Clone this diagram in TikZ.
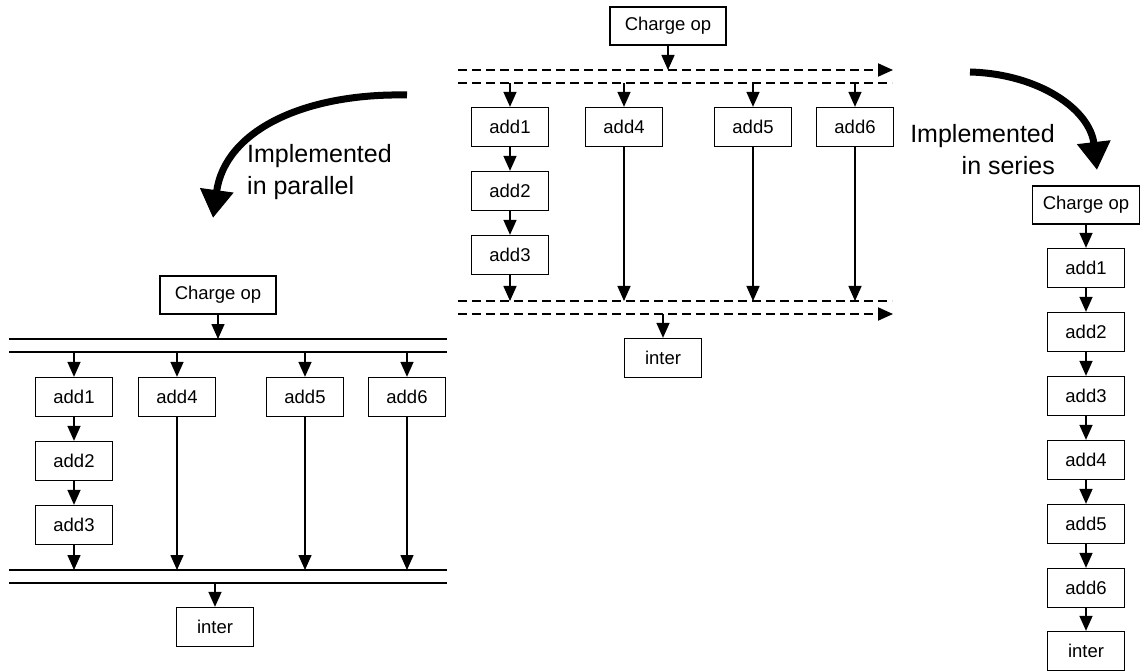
\documentclass[tikz,border=0pt]{standalone}
\usepackage{fontspec}
\setmainfont{Liberation Sans}
\usetikzlibrary{arrows.meta}

\tikzset{
	box/.style={draw, line width=1.3pt, minimum width=77pt, minimum height=39pt, inner sep=0pt, font=\fontsize{18.5}{22}\selectfont},
	chargebox/.style={box, minimum width=116pt, minimum height=38pt},
	flow/.style={line width=1.5pt, -{Triangle[width=13pt,length=15pt]}},
	bus/.style={line width=2pt},
	dbus/.style={line width=2pt, dash pattern=on 9pt off 5pt},
	curvearrow/.style={line width=7pt, -{Triangle[width=32pt,length=28pt]}},
	note/.style={font=\fontsize{25}{32}\selectfont, inner sep=0pt}
}

\begin{document}
\begin{tikzpicture}[x=1pt, y=-1pt]
	\useasboundingbox (0,0) rectangle (1144,671);

	% middle: the original graph
	\node[chargebox] (mcharge) at (668,26) {Charge op};
	\coordinate (mbusa) at (458,70);  \coordinate (mbusaend) at (893,70);
	\coordinate (mbusb) at (458,83);  \coordinate (mbusbend) at (892,83);
	\draw[dbus, -{Triangle[width=13pt,length=15pt]}] (mbusa) -- (mbusaend);
	\draw[dbus] (mbusb) -- (mbusbend);
	\node[box] (madda) at (510,127) {add1};
	\node[box] (maddb) at (510,191) {add2};
	\node[box] (maddc) at (510,255) {add3};
	\node[box] (maddd) at (624,127) {add4};
	\node[box] (madde) at (753,127) {add5};
	\node[box] (maddf) at (855,127) {add6};
	\coordinate (mbusc) at (458,301); \coordinate (mbuscend) at (892,301);
	\coordinate (mbusd) at (458,314); \coordinate (mbusdend) at (893,314);
	\draw[dbus] (mbusc) -- (mbuscend);
	\draw[dbus, -{Triangle[width=13pt,length=15pt]}] (mbusd) -- (mbusdend);
	\node[box] (minter) at (663,358) {inter};

	\draw[flow] (mcharge) -- (mcharge.south |- mbusa);
	\foreach \n in {madda,maddd,madde,maddf}
		\draw[flow] (\n.north |- mbusb) -- (\n);
	\draw[flow] (madda) -- (maddb);
	\draw[flow] (maddb) -- (maddc);
	\foreach \n in {maddc,maddd,madde,maddf}
		\draw[flow] (\n) -- (\n.south |- mbusc);
	\draw[flow] (minter.north |- mbusd) -- (minter);

	% left: implemented in parallel
	\node[chargebox] (lcharge) at (218,295) {Charge op};
	\coordinate (lbusa) at (9,339);   \coordinate (lbusaend) at (447,339);
	\coordinate (lbusb) at (9,352);   \coordinate (lbusbend) at (447,352);
	\draw[bus] (lbusa) -- (lbusaend);
	\draw[bus] (lbusb) -- (lbusbend);
	\node[box] (ladda) at (74,397) {add1};
	\node[box] (laddb) at (74,461) {add2};
	\node[box] (laddc) at (74,525) {add3};
	\node[box] (laddd) at (177,397) {add4};
	\node[box] (ladde) at (305,397) {add5};
	\node[box] (laddf) at (407,397) {add6};
	\coordinate (lbusc) at (9,570);   \coordinate (lbuscend) at (447,570);
	\coordinate (lbusd) at (9,583);   \coordinate (lbusdend) at (447,583);
	\draw[bus] (lbusc) -- (lbuscend);
	\draw[bus] (lbusd) -- (lbusdend);
	\node[box] (linter) at (215,627) {inter};

	\draw[flow] (lcharge) -- (lcharge.south |- lbusa);
	\foreach \n in {ladda,laddd,ladde,laddf}
		\draw[flow] (\n.north |- lbusb) -- (\n);
	\draw[flow] (ladda) -- (laddb);
	\draw[flow] (laddb) -- (laddc);
	\foreach \n in {laddc,laddd,ladde,laddf}
		\draw[flow] (\n) -- (\n.south |- lbusc);
	\draw[flow] (linter.north |- lbusd) -- (linter);

	% right: implemented in series
	\node[chargebox, minimum width=107pt] (scharge) at (1086,205) {Charge op};
	\node[box] (sadda) at (1086,268) {add1};
	\node[box] (saddb) at (1086,332) {add2};
	\node[box] (saddc) at (1086,396) {add3};
	\node[box] (saddd) at (1086,460) {add4};
	\node[box] (sadde) at (1086,524) {add5};
	\node[box] (saddf) at (1086,588) {add6};
	\node[box] (sinter) at (1086,651) {inter};
	\foreach \a/\b in {scharge/sadda,sadda/saddb,saddb/saddc,saddc/saddd,saddd/sadde,sadde/saddf,saddf/sinter}
		\draw[flow] (\a) -- (\b);

	% big curved arrows and their labels
	\coordinate (parfrom) at (407,95);  \coordinate (parto) at (213,218);
	\draw[curvearrow] (parfrom) .. controls (305,93) and (225,130) .. (parto);
	\node[note, anchor=north west, align=left] (partext) at (247,144) {Implemented\\in parallel};
	\coordinate (serfrom) at (970,72);  \coordinate (serto) at (1097,170);
	\draw[curvearrow] (serfrom) .. controls (1040,74) and (1090,110) .. (serto);
	\node[note, anchor=north east, align=right] (sertext) at (1055,124) {Implemented\\in series};
\end{tikzpicture}
\end{document}
